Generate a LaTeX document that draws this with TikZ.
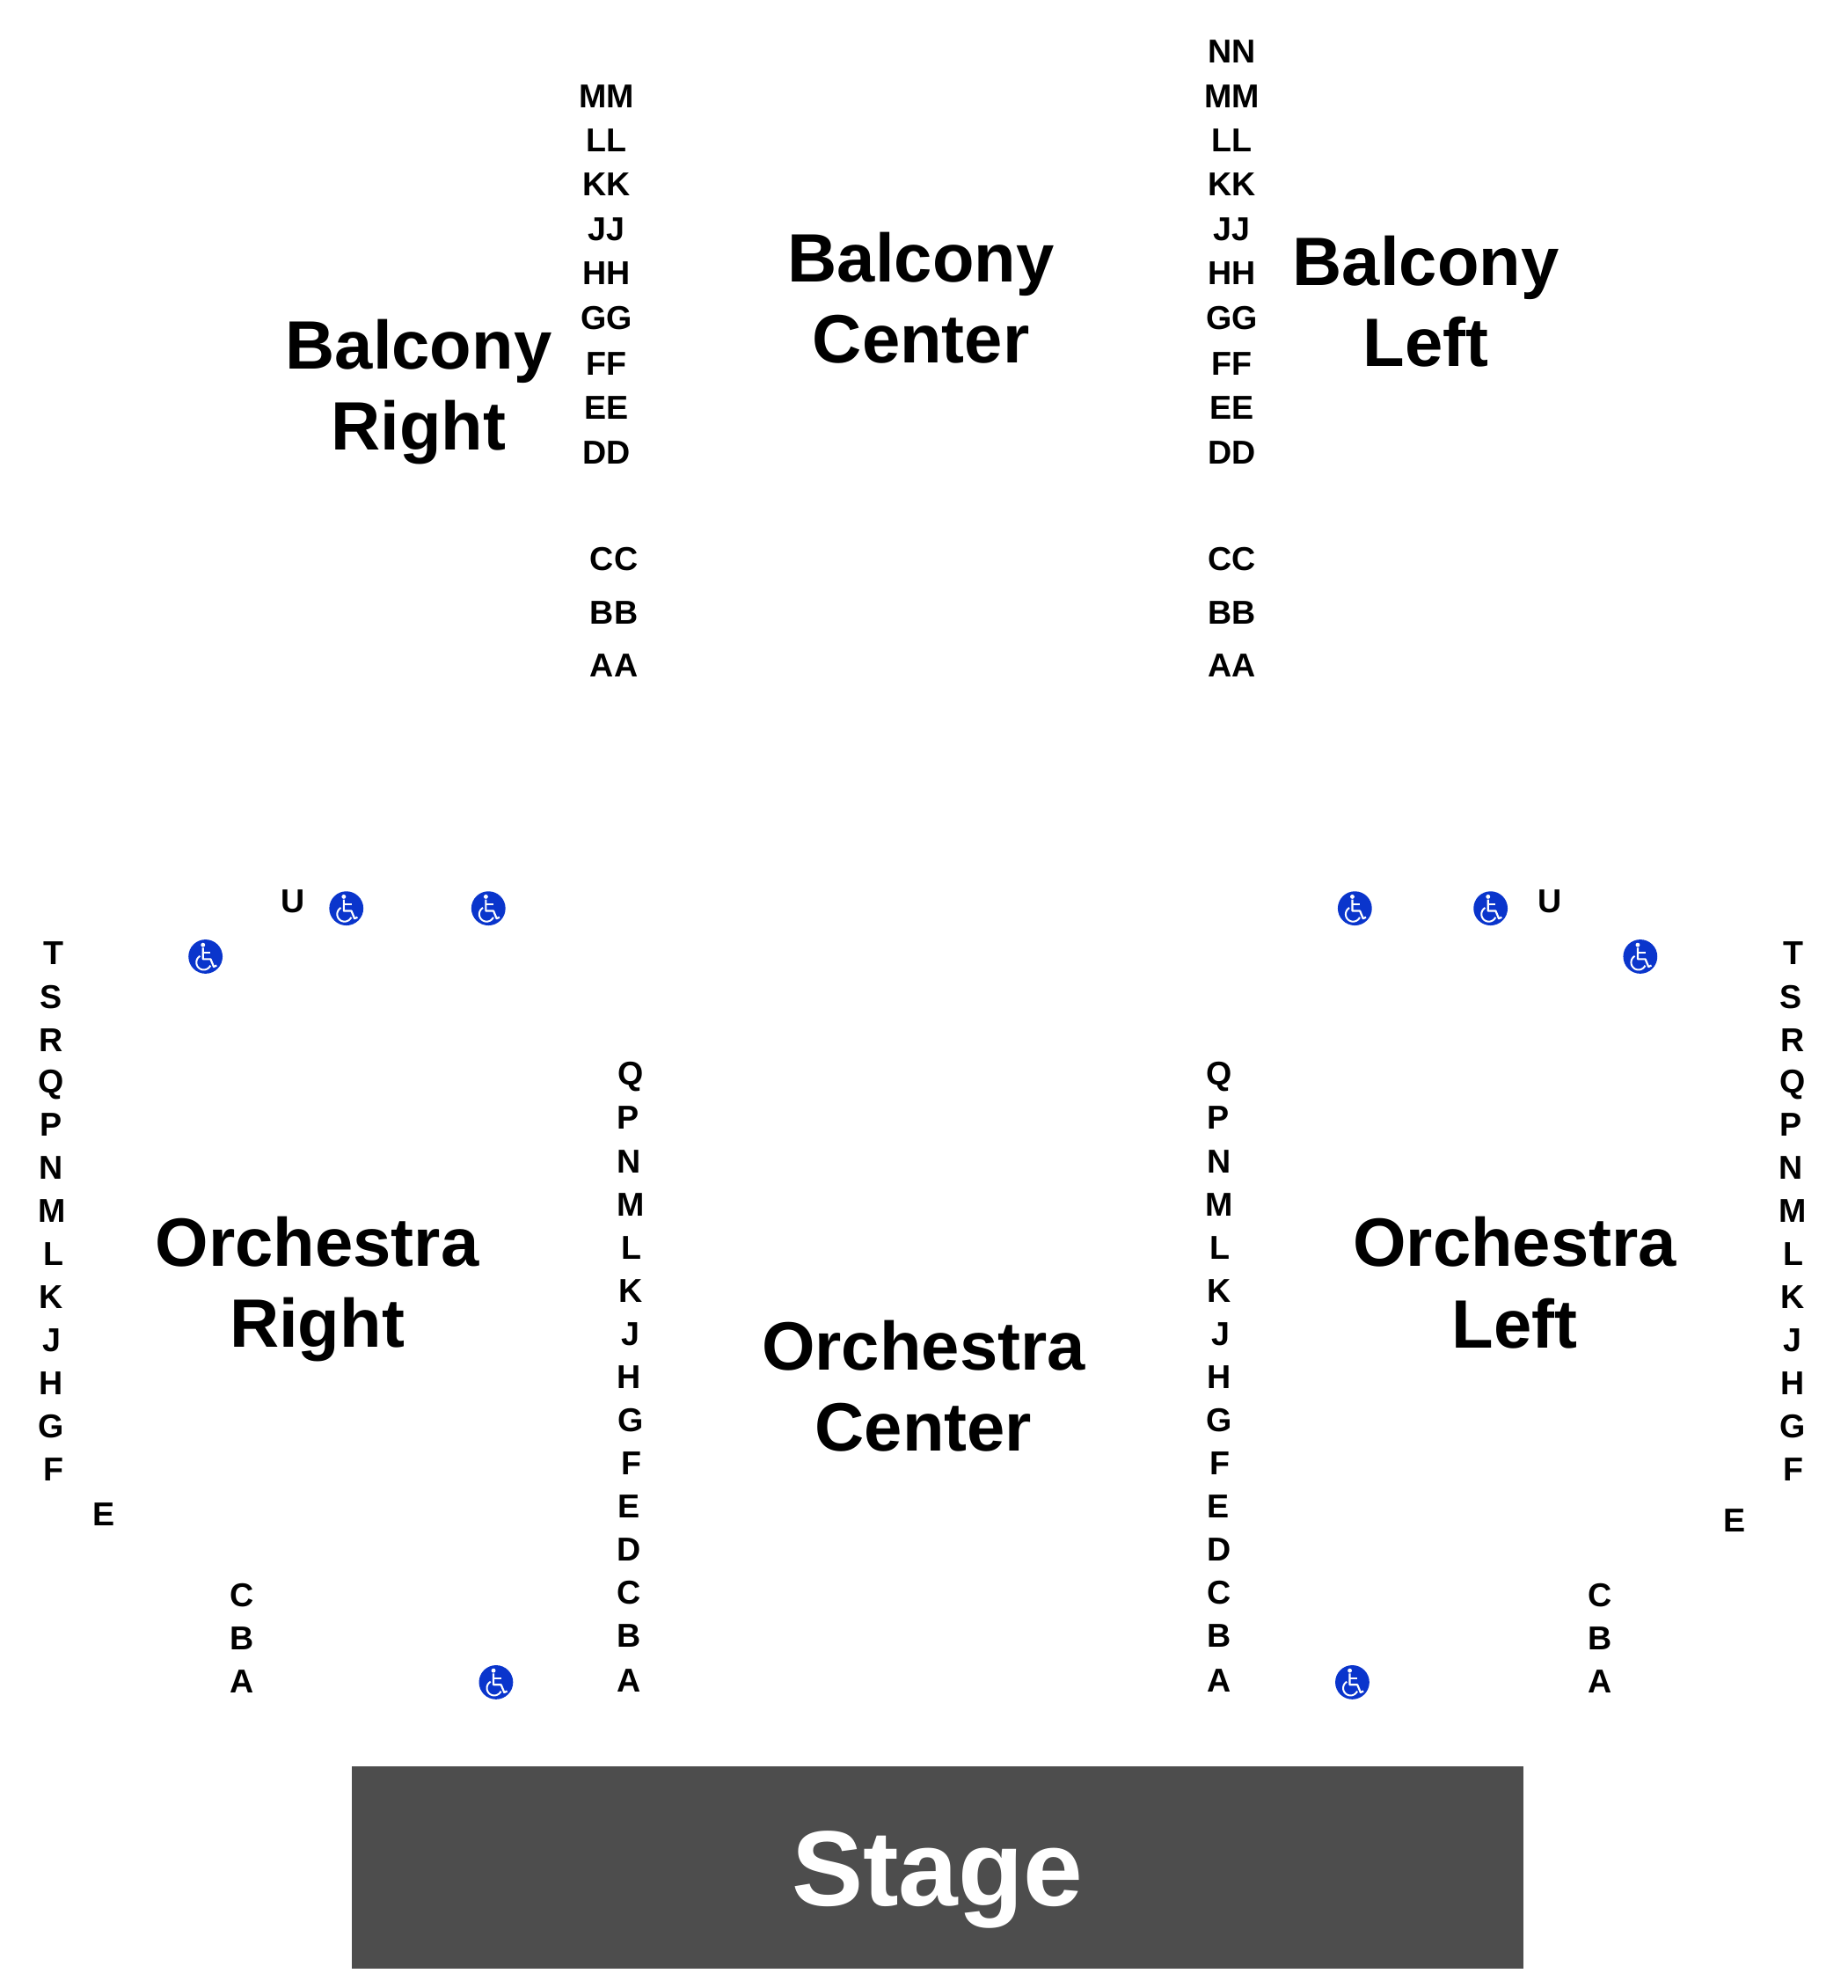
\documentclass[tikz,border=0pt]{standalone}
\usepackage{fontspec}
\setmainfont{Liberation Sans}
\definecolor{stagegray}{HTML}{4D4D4D}
\definecolor{accessblue}{HTML}{0A35CC}
\tikzset{
  rowlabel/.style={anchor=base,inner sep=0pt,yshift=-6.2pt,font=\fontsize{18.8}{20}\selectfont\bfseries},
  seclabel/.style={align=center,inner sep=0pt,font=\fontsize{38.9}{46.2}\selectfont\bfseries},
  accessdot/.style={circle,fill=accessblue,minimum size=19.4pt,inner sep=0pt},
  accesssign/.pic={
    \fill[white] (-2,-9.2) circle (1.7);
    \draw[white,line width=1.1pt,line join=round] (-2,-7)--(-2,2)--(4,2)--(6.5,8)--(8.8,7);
    \draw[white,line width=1.1pt] (-2,-3)--(4,-3);
    \draw[white,line width=1pt,domain=120:335,samples=30] plot ({-1.4+5.8*cos(\x)},{4.6-5.8*sin(\x)});
  }
}
\begin{document}
\begin{tikzpicture}[x=0.7211pt,y=-0.7211pt]
\useasboundingbox (0,0) rectangle (1456.1,1567);
% stage
\node[fill=stagegray,minimum width=666pt,minimum height=114.9pt,inner sep=0pt,anchor=north west] (stagebox) at (277,1392) {};
\node[anchor=base,inner sep=0pt,text=white,font=\fontsize{60.8}{60}\selectfont\bfseries] (stagetext) at (739,1502) {Stage};
% sections
\node[seclabel] (balconyR) at (330,309) {Balcony\\Right};
\node[seclabel] (balconyC) at (726,235) {Balcony\\Center};
\node[seclabel] (balconyL) at (1124,237.5) {Balcony\\Left};
\node[seclabel] (orchR) at (250,1016) {Orchestra\\Right};
\node[seclabel] (orchC) at (728,1092.5) {Orchestra\\Center};
\node[seclabel] (orchL) at (1194,1011) {Orchestra\\Left};
% balcony rows
\foreach \lab/\xx/\yy in {MM/478/76,LL/478/111,KK/478/146,JJ/478/181,HH/478/216,GG/478/251,FF/478/287,EE/478/322,DD/478/357,CC/484/441,BB/484/483,AA/484/525}
  \node[rowlabel] (balR\lab) at (\xx,\yy) {\lab};
\foreach \lab/\yy in {NN/41,MM/76,LL/111,KK/146,JJ/181,HH/216,GG/251,FF/287,EE/322,DD/357,CC/441,BB/483,AA/525}
  \node[rowlabel] (balL\lab) at (971,\yy) {\lab};
% orchestra rows, outer side
\foreach \lab/\xx/\yy in {U/231/711,T/42/752,S/40/786,R/40/820,Q/40/853,P/40/887,N/40/921,M/41/955,L/42/989,K/40/1023,J/41/1057,H/40/1091,G/40/1125,F/42/1159,E/82/1194,C/191/1258,B/191/1292,A/191/1326}
  \node[rowlabel] (outR\lab) at (\xx,\yy) {\lab};
\foreach \lab/\xx/\yy in {U/1222/711,T/1414/752,S/1412/786,R/1413/820,Q/1413/853,P/1412/887,N/1412/921,M/1413/955,L/1414/989,K/1413/1023,J/1413/1057,H/1413/1091,G/1413/1125,F/1414/1159,E/1367/1199,C/1261/1258,B/1261/1292,A/1261/1326}
  \node[rowlabel] (outL\lab) at (\xx,\yy) {\lab};
% orchestra rows, aisle side
\foreach \lab/\xx/\yy in {Q/497/847,P/495/881,N/496/916,M/497/950,L/498/984,K/497/1018,J/497/1052,H/496/1086,G/497/1120,F/498/1154,E/496/1188,D/496/1222,C/496/1256,B/496/1290,A/496/1325}
  \node[rowlabel] (innR\lab) at (\xx,\yy) {\lab};
\foreach \lab/\xx/\yy in {Q/961/847,P/960/881,N/961/916,M/961/950,L/962/984,K/961/1018,J/962/1052,H/961/1086,G/961/1120,F/962/1154,E/960/1188,D/961/1222,C/961/1256,B/961/1290,A/961/1325}
  \node[rowlabel] (innL\lab) at (\xx,\yy) {\lab};
% wheelchair spots
\foreach \xx/\yy [count=\i] in {273/716,385/716,162/754,1068/716,1175/716,1293/754,391/1326,1066/1326}{
  \node[accessdot] (access\i) at (\xx,\yy) {};
  \pic at (access\i) {accesssign};
}
\end{tikzpicture}
\end{document}
